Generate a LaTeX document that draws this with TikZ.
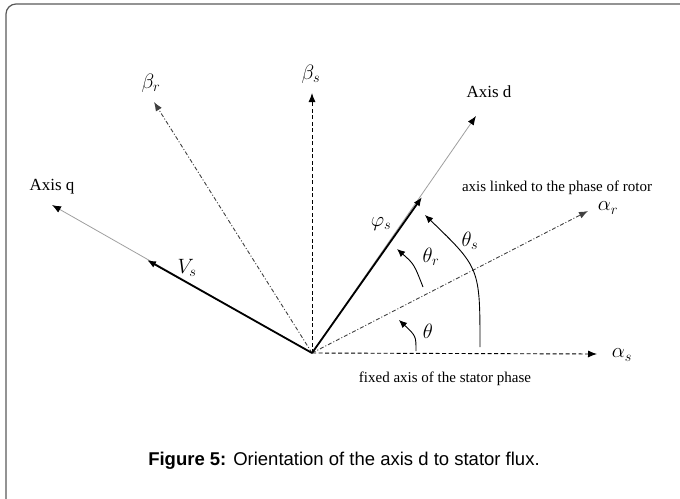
\documentclass[tikz,border=0pt]{standalone}
\usepackage{fontspec}
\setmainfont{Liberation Serif}
\newfontfamily\capfont{Liberation Sans}
\usetikzlibrary{arrows.meta}
\tikzset{
  vec/.style={-{Latex[length=9pt,width=7pt]}, line width=1.8pt},
  ax/.style={-{Latex[length=9pt,width=7pt,color=black]}, line width=0.8pt, gray!75},
  dsh/.style={-{Latex[length=9pt,width=7pt]}, line width=0.9pt, dash pattern=on 4pt off 2.5pt},
  dshdot/.style={-{Latex[length=9pt,width=7pt]}, line width=0.9pt, black!75,
                 dash pattern=on 4pt off 2pt on 1pt off 2pt},
  ang/.style={-{Latex[length=8pt,width=7pt]}, line width=0.9pt},
  lbl/.style={font=\fontsize{17}{20}\selectfont, inner sep=1pt},
  sym/.style={font=\fontsize{22}{24}\selectfont, inner sep=1pt},
  txt/.style={font=\fontsize{15}{18}\selectfont, inner sep=1pt},
}

\begin{document}
\begin{tikzpicture}[x=1pt, y=-1pt]
  \useasboundingbox (0,0) rectangle (680,498);
  % frame
  \begin{scope}
    \clip (0,0) rectangle (680,498);
    \draw[line width=1.2pt, black!65, rounded corners=10pt] (6,4) rectangle (720,540);
  \end{scope}

  % origin and axis tips
  \coordinate (O)  at (312,353);
  \coordinate (as) at (597,354);
  \coordinate (bs) at (312,93);
  \coordinate (br) at (154,102);
  \coordinate (ar) at (588,211);
  \coordinate (q)  at (52,205);
  \coordinate (d)  at (476,116);
  \coordinate (vs) at (147,260);
  \coordinate (ps) at (422,197);

  % axes
  \draw[dsh] (O) -- (as);
  \draw[dsh] (O) -- (bs);
  \draw[dshdot] (O) -- (br);
  \draw[dshdot] (O) -- (ar);
  \draw[ax] (O) -- (q);
  \draw[ax] (O) -- (d);
  \draw[vec] (O) -- (vs);
  \draw[vec] (O) -- (ps);

  % angles
  \coordinate (t1)  at (416,351);
  \coordinate (t1e) at (399,320);
  \coordinate (t2)  at (423,287);
  \coordinate (t2e) at (397,249);
  \coordinate (t3)  at (480,347);
  \coordinate (t3e) at (425,215);
  \draw[ang] (t1) .. controls (416,336) .. (t1e);
  \draw[ang] (t2) .. controls (414,264) .. (t2e);
  \draw[ang] (t3) .. controls (480,268) .. (t3e);

  % labels
  \node[sym] (las) at (622,355) {$\alpha_s$};
  \node[sym] (lbs) at (311,74)  {$\beta_s$};
  \node[sym] (lbr) at (151,83)  {$\beta_r$};
  \node[sym] (lar) at (608,208) {$\alpha_r$};
  \node[sym] (lvs) at (187,268) {$V_s$};
  \node[sym] (lps) at (381,224) {$\varphi_s$};
  \node[sym] (lt1) at (428,331) {$\theta$};
  \node[sym] (lt2) at (431,257) {$\theta_r$};
  \node[sym] (lt3) at (470,241) {$\theta_s$};
  \node[lbl] (lq) at (52,187) {Axis q};
  \node[lbl] (ld) at (489,92) {Axis d};
  \node[txt] (lrot) at (557,188) {axis linked to the phase of rotor};
  \node[txt] (lsta) at (445,379) {fixed axis of the stator phase};

  % caption
  \node[font=\capfont\fontsize{18.5}{22}\selectfont, inner sep=0pt] (cap) at (344,461)
    {\textbf{Figure 5:} Orientation of the axis d to stator flux.};
\end{tikzpicture}
\end{document}
